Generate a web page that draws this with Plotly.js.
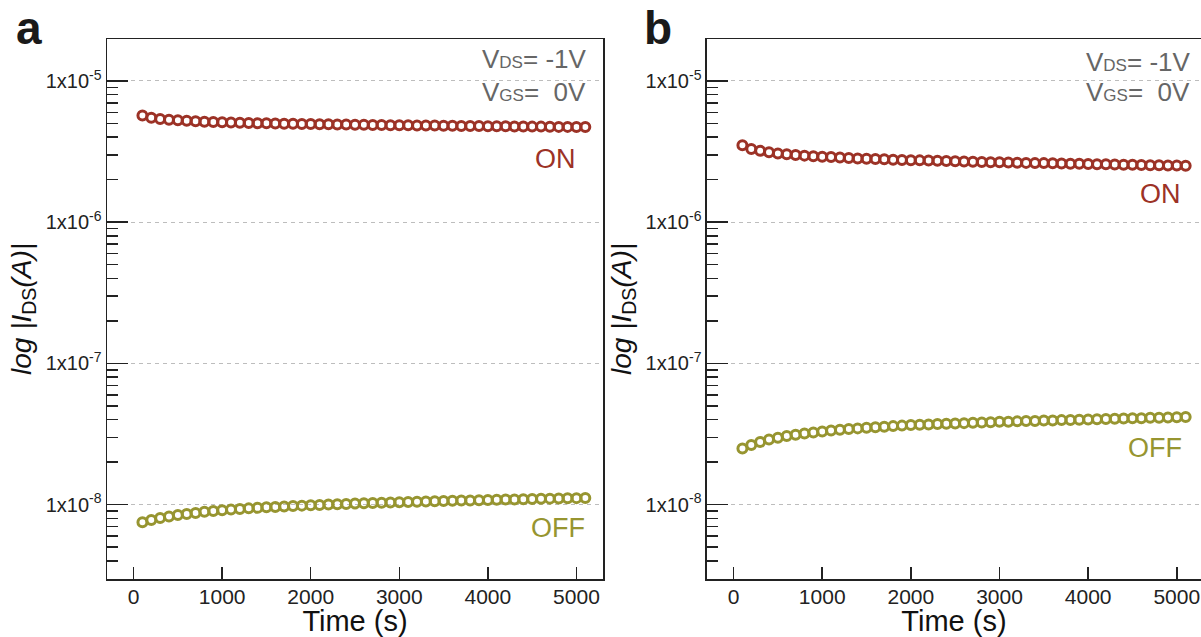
<!DOCTYPE html>
<html>
<head>
<meta charset="utf-8">
<script src="https://cdn.plot.ly/plotly-3.0.1.min.js"></script>
<style>html,body{margin:0;padding:0;background:#fff;}#chart{width:1201px;height:637px;}</style>
</head>
<body>
<div id="chart"></div>
<script>
// Time axis (s)
const timeS = [100,200,300,400,500,600,700,800,900,1000,1100,1200,1300,1400,1500,1600,1700,1800,1900,2000,
  2100,2200,2300,2400,2500,2600,2700,2800,2900,3000,3100,3200,3300,3400,3500,3600,3700,3800,3900,4000,
  4100,4200,4300,4400,4500,4600,4700,4800,4900,5000,5100];

// Panel a
const onA = [5.70e-6,5.48e-6,5.38e-6,5.31e-6,5.26e-6,5.22e-6,5.18e-6,5.15e-6,5.12e-6,5.10e-6,
  5.08e-6,5.06e-6,5.04e-6,5.02e-6,5.01e-6,4.99e-6,4.98e-6,4.97e-6,4.96e-6,4.95e-6,
  4.94e-6,4.93e-6,4.92e-6,4.91e-6,4.90e-6,4.89e-6,4.88e-6,4.87e-6,4.86e-6,4.86e-6,
  4.85e-6,4.84e-6,4.83e-6,4.83e-6,4.82e-6,4.81e-6,4.80e-6,4.80e-6,4.79e-6,4.78e-6,
  4.78e-6,4.77e-6,4.76e-6,4.76e-6,4.75e-6,4.75e-6,4.74e-6,4.73e-6,4.73e-6,4.72e-6,4.72e-6];
const offA = [7.50e-9,7.80e-9,8.05e-9,8.25e-9,8.45e-9,8.60e-9,8.75e-9,8.90e-9,9.02e-9,9.13e-9,
  9.23e-9,9.33e-9,9.42e-9,9.50e-9,9.58e-9,9.65e-9,9.72e-9,9.79e-9,9.85e-9,9.91e-9,
  9.97e-9,1.003e-8,1.008e-8,1.013e-8,1.018e-8,1.023e-8,1.028e-8,1.032e-8,1.037e-8,1.041e-8,
  1.045e-8,1.049e-8,1.053e-8,1.057e-8,1.061e-8,1.065e-8,1.069e-8,1.072e-8,1.076e-8,1.080e-8,
  1.083e-8,1.087e-8,1.090e-8,1.094e-8,1.097e-8,1.100e-8,1.104e-8,1.107e-8,1.110e-8,1.113e-8,1.116e-8];

// Panel b
const onB = [3.50e-6,3.30e-6,3.20e-6,3.13e-6,3.07e-6,3.03e-6,2.99e-6,2.96e-6,2.93e-6,2.91e-6,
  2.89e-6,2.87e-6,2.85e-6,2.83e-6,2.81e-6,2.80e-6,2.79e-6,2.77e-6,2.76e-6,2.75e-6,
  2.74e-6,2.73e-6,2.72e-6,2.71e-6,2.70e-6,2.69e-6,2.68e-6,2.67e-6,2.66e-6,2.66e-6,
  2.65e-6,2.64e-6,2.63e-6,2.62e-6,2.62e-6,2.61e-6,2.60e-6,2.59e-6,2.59e-6,2.58e-6,
  2.57e-6,2.57e-6,2.56e-6,2.55e-6,2.55e-6,2.54e-6,2.53e-6,2.53e-6,2.52e-6,2.52e-6,2.51e-6];
const offB = [2.50e-8,2.65e-8,2.78e-8,2.89e-8,2.98e-8,3.06e-8,3.13e-8,3.19e-8,3.25e-8,3.30e-8,
  3.35e-8,3.39e-8,3.43e-8,3.47e-8,3.51e-8,3.54e-8,3.57e-8,3.60e-8,3.63e-8,3.66e-8,
  3.68e-8,3.70e-8,3.72e-8,3.74e-8,3.76e-8,3.78e-8,3.80e-8,3.82e-8,3.84e-8,3.86e-8,
  3.87e-8,3.89e-8,3.91e-8,3.92e-8,3.94e-8,3.95e-8,3.97e-8,3.98e-8,4.00e-8,4.01e-8,
  4.03e-8,4.04e-8,4.06e-8,4.07e-8,4.09e-8,4.10e-8,4.12e-8,4.13e-8,4.15e-8,4.16e-8,4.17e-8];

// Tick labels
const xTickVals = [0,1000,2000,3000,4000,5000];
const xTickText = ['0','1000','2000','3000','4000','5000'];
const yTickVals = [1e-8,1e-7,1e-6,1e-5];
const yTickText = ['1x10<sup>-8</sup>','1x10<sup>-7</sup>','1x10<sup>-6</sup>','1x10<sup>-5</sup>'];
const yMinorVals = [];
[-9,-8,-7,-6,-5].forEach(e => { for (let d = 2; d <= 9; d++) yMinorVals.push(d * Math.pow(10, e)); });

const ON_COLOR = '#9c3226';
const OFF_COLOR = '#979530';
const FONT = 'Liberation Sans, Arial, Helvetica, sans-serif';

function series(x, y, color, xa, ya, name) {
  return {x: x, y: y, xaxis: xa, yaxis: ya, name: name, type: 'scatter', mode: 'markers',
    marker: {symbol: 'circle-open', size: 9, color: color, line: {width: 3, color: color}},
    showlegend: false, hoverinfo: 'x+y'};
}

const data = [
  series(timeS, onA, ON_COLOR, 'x', 'y', 'ON a'),
  series(timeS, offA, OFF_COLOR, 'x', 'y', 'OFF a'),
  series(timeS, onB, ON_COLOR, 'x2', 'y2', 'ON b'),
  series(timeS, offB, OFF_COLOR, 'x2', 'y2', 'OFF b')
];

function xAxis(domain, range, anchor) {
  return {domain: domain, range: range, anchor: anchor, type: 'linear',
    tickmode: 'array', tickvals: xTickVals, ticktext: xTickText,
    ticks: 'inside', ticklen: 12, tickwidth: 1.5, tickcolor: '#222',
    showline: true, mirror: true, linecolor: '#222', linewidth: 1.5,
    showgrid: false, zeroline: false,
    ticklabelstandoff: -2,
    tickfont: {family: FONT, size: 21, color: '#222'},
    title: {text: 'Time (s)', font: {family: FONT, size: 29, color: '#111'}, standoff: 6},
    automargin: false};
}
function yAxis(anchor) {
  return {domain: [0, 1], type: 'log', range: [-8.526, -4.703], anchor: anchor,
    tickmode: 'array', tickvals: yTickVals, ticktext: yTickText,
    ticks: 'inside', ticklen: 21, tickwidth: 1.5, tickcolor: '#222',
    minor: {tickmode: 'array', tickvals: yMinorVals, ticks: 'inside', ticklen: 11, tickwidth: 1.5, tickcolor: '#222', showgrid: false},
    showline: true, mirror: true, linecolor: '#222', linewidth: 1.5,
    showgrid: true, gridcolor: '#bdbdbd', gridwidth: 1, griddash: '4px,4px',
    zeroline: false,
    tickfont: {family: FONT, size: 20, color: '#222'},
    title: {text: '<i>log |I</i><sub>DS</sub><i>(A)|</i>', font: {family: FONT, size: 28, color: '#111'}, standoff: 6},
    automargin: false};
}

const sub = t => '<span style="font-size:17px">' + t + '</span>';
function ann(x, y, xref, yref, text, color, size, opts) {
  return Object.assign({x: x, y: y, xref: xref, yref: yref, text: text, showarrow: false,
    xanchor: 'right', yanchor: 'middle', font: {family: FONT, size: size, color: color}}, opts || {});
}

const layout = {
  width: 1201, height: 637,
  margin: {l: 107, r: 0, t: 39, b: 58},
  paper_bgcolor: '#fff', plot_bgcolor: '#fff',
  showlegend: false,
  xaxis: xAxis([0, 0.4534], [-300, 5300], 'y'),
  yaxis: yAxis('x'),
  xaxis2: xAxis([0.5484, 1], [-300, 5273], 'y2'),
  yaxis2: yAxis('x2'),
  annotations: [
    ann(5130, -4.848, 'x', 'y', 'V' + sub('DS') + '= -1V', '#666', 26),
    ann(5130, -5.076, 'x', 'y', 'V' + sub('GS') + '=  0V', '#666', 26),
    ann(5017, -5.549, 'x', 'y', 'ON', ON_COLOR, 27),
    ann(5118, -8.165, 'x', 'y', 'OFF', OFF_COLOR, 27),
    ann(5168, -4.863, 'x2', 'y2', 'V' + sub('DS') + '= -1V', '#666', 26),
    ann(5168, -5.081, 'x2', 'y2', 'V' + sub('GS') + '=  0V', '#666', 26),
    ann(5070, -5.80, 'x2', 'y2', 'ON', ON_COLOR, 27),
    ann(5080, -7.596, 'x2', 'y2', 'OFF', OFF_COLOR, 27),
    ann(-0.0713, 1.021, 'paper', 'paper', '<b>a</b>', '#1a1a1a', 46, {xanchor: 'center'}),
    ann(0.5037, 1.021, 'paper', 'paper', '<b>b</b>', '#1a1a1a', 46, {xanchor: 'center'})
  ]
};

Plotly.newPlot('chart', data, layout, {staticPlot: true, displayModeBar: false});
</script>
</body>
</html>
